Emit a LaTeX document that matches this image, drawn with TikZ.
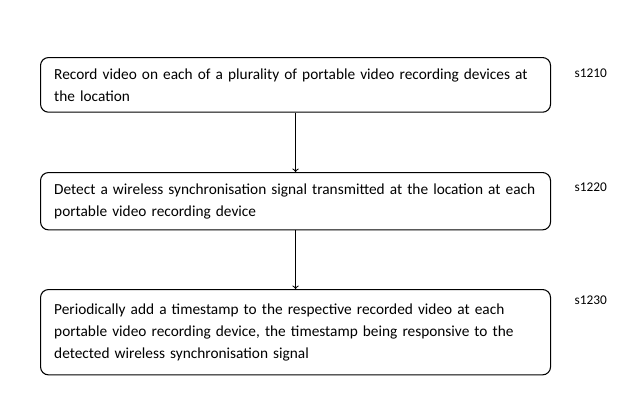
\documentclass[tikz,border=0pt]{standalone}
\usepackage{fontspec}
\setmainfont{Carlito}
\usepackage{tikz}
\usetikzlibrary{positioning}

\begin{document}
\begin{tikzpicture}[x=0.75pt,y=-0.75pt,
    stepbox/.style={draw, thick, rounded corners=6pt, anchor=north west, minimum width=382.5pt,
        text width=362pt, align=left, inner xsep=10pt, font=\fontsize{11.5}{16.5}\selectfont},
    steplabel/.style={font=\fontsize{10}{12}\selectfont, anchor=west}]
    \useasboundingbox (0,0) rectangle (641,418);
    % Process steps
    \node[stepbox, minimum height=41pt] (record) at (40,57) {Record video on each of a plurality of portable video recording devices at the location};
    \node[stepbox, minimum height=43pt] (detect) at (40,172) {Detect a wireless synchronisation signal transmitted at the location at each portable video recording device};
    \node[stepbox, minimum height=64pt] (stamp) at (40,289) {Periodically add a timestamp to the respective recorded video at each portable video recording device, the timestamp being responsive to the detected wireless synchronisation signal};

    \draw[->, thick] (record) -- (detect);
    \draw[->, thick] (detect) -- (stamp);

    % Step labels
    \node[steplabel] (s1) at (570,73) {s1210};
    \node[steplabel] (s2) at (570,187) {s1220};
    \node[steplabel] (s3) at (570,300) {s1230};
\end{tikzpicture}
\end{document}
